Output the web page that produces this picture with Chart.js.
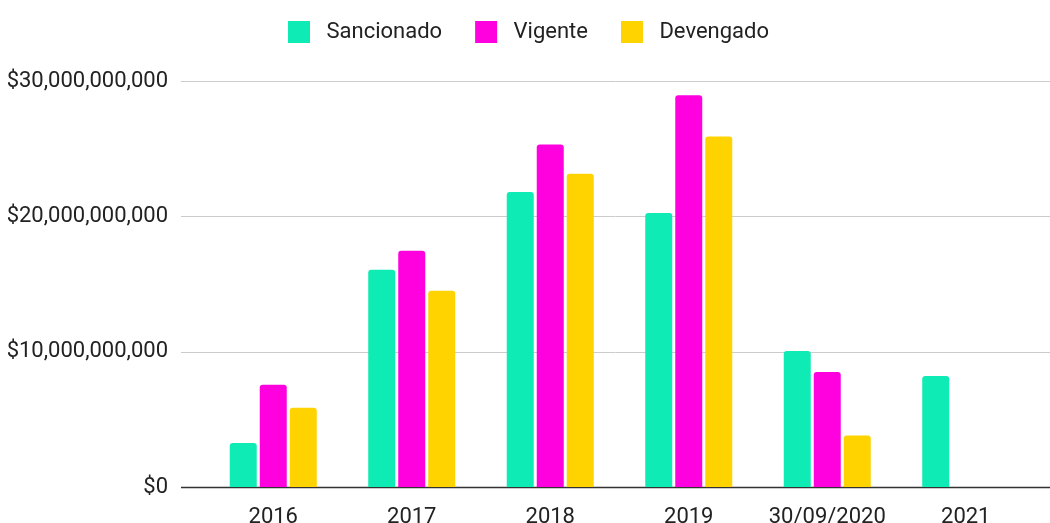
<!DOCTYPE html>
<html>
<head>
<meta charset="utf-8">
<script src="https://cdn.jsdelivr.net/npm/chart.js@4"></script>
<style>
  html, body { margin: 0; padding: 0; background: #fff; }
  #wrap { width: 1050px; height: 523px; }
</style>
</head>
<body>
<div id="wrap"><canvas id="budgetChart" width="1050" height="523"></canvas></div>
<script>
// values
const years = ["2016", "2017", "2018", "2019", "30/09/2020", "2021"];
const sancionado = [3.25e9, 16.05e9, 21.8e9, 20.25e9, 10.05e9, 8.2e9];
const vigente = [7.55e9, 17.45e9, 25.3e9, 28.95e9, 8.5e9, null];
const devengado = [5.85e9, 14.5e9, 23.15e9, 25.9e9, 3.8e9, null];

const seriesNames = ["Sancionado", "Vigente", "Devengado"];
const seriesColors = ["#0FEBB4", "#FF00DF", "#FFD300"];

Chart.defaults.font.family = "Roboto, 'Noto Sans', sans-serif";
Chart.defaults.color = "#222";

// gridlines in the original run past the plot area, so draw them by hand
const wideGrid = {
  id: 'wideGrid',
  beforeDatasetsDraw(chart) {
    const { ctx, scales: { y }, width } = chart;
    ctx.save();
    y.ticks.forEach(t => {
      const py = Math.round(y.getPixelForValue(t.value)) + 0.5;
      ctx.strokeStyle = t.value === 0 ? "#333" : "#ccc";
      ctx.lineWidth = t.value === 0 ? 1.5 : 1;
      ctx.beginPath();
      ctx.moveTo(181, py);
      ctx.lineTo(width, py);
      ctx.stroke();
    });
    ctx.restore();
  }
};

// legend sits higher and a bit right, with more room under it
const legendTweak = {
  id: 'legendTweak',
  beforeInit(chart) {
    const fit = chart.legend.fit;
    chart.legend.fit = function () {
      fit.call(this);
      this.height += 8;
    };
  },
  afterLayout(chart) {
    chart.legend.top -= 20;
    chart.legend.left += 22;
  }
};

new Chart(document.getElementById('budgetChart'), {
  type: 'bar',
  data: {
    labels: years,
    datasets: [sancionado, vigente, devengado].map((d, i) => ({
      label: seriesNames[i],
      data: d,
      backgroundColor: seriesColors[i],
      borderRadius: 3,
      borderSkipped: 'bottom',
      categoryPercentage: 0.65,
      barPercentage: 0.9
    }))
  },
  options: {
    responsive: false,
    animation: false,
    layout: { padding: { left: 0, right: 15, top: 8, bottom: 0 } },
    plugins: {
      legend: {
        position: 'top',
        labels: {
          boxWidth: 22,
          boxHeight: 22,
          padding: 33,
          font: { size: 22 },
          color: "#222",
          generateLabels: chart => Chart.defaults.plugins.legend.labels.generateLabels(chart)
            .map(l => ({ ...l, text: ' ' + l.text }))
        }
      },
      tooltip: { enabled: false }
    },
    scales: {
      x: {
        grid: { display: false, drawTicks: false },
        border: { display: false },
        ticks: { padding: 17, font: { size: 22 }, color: "#222" },
        afterFit: s => { s.height = 36; }
      },
      y: {
        min: 0,
        max: 30e9,
        grid: { display: false, drawTicks: false },
        border: { display: false },
        ticks: {
          stepSize: 10e9,
          padding: 36,
          font: { size: 22 },
          color: "#222",
          callback: v => "$" + v.toLocaleString('en-US')
        },
        afterFit: s => {
          s.width = 204;
          // tick padding should not push the plot down
          s.paddingTop = 0;
          s.paddingBottom = 0;
        }
      }
    }
  },
  plugins: [wideGrid, legendTweak]
});
</script>
</body>
</html>
